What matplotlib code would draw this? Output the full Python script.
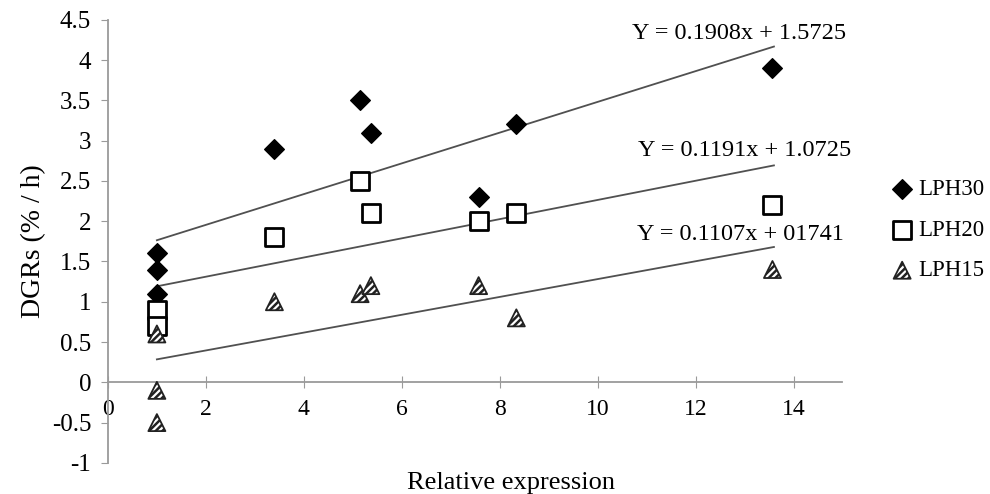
import matplotlib.pyplot as plt
import numpy as np

plt.rcParams['font.family'] = ['Liberation Serif', 'DejaVu Serif']
plt.rcParams['hatch.linewidth'] = 1.8

# data
x30 = [1.0, 1.0, 1.0, 3.4, 5.15, 5.37, 7.57, 8.34, 13.57]
y30 = [1.6, 1.4, 1.1, 2.9, 3.5, 3.1, 2.3, 3.2, 3.9]
x20 = [1.0, 1.0, 3.4, 5.15, 5.37, 7.57, 8.34, 13.57]
y20 = [0.9, 0.7, 1.8, 2.5, 2.1, 2.0, 2.1, 2.2]
x15 = [1.0, 1.0, 1.0, 3.4, 5.15, 5.37, 7.57, 8.34, 13.57]
y15 = [0.6, -0.1, -0.5, 1.0, 1.1, 1.2, 1.2, 0.8, 1.4]

# trend lines: slope, intercept, label
fits = [
    (0.1908, 1.5725, "Y = 0.1908x + 1.5725"),
    (0.1191, 1.0725, "Y = 0.1191x + 1.0725"),
    (0.1107, 0.1741, "Y = 0.1107x + 01741"),
]
fit_x = [1.0, 13.6]

fig = plt.figure(figsize=(9.9, 4.94), dpi=100)
ax = fig.add_axes([0.109, 0.063, 0.742, 0.897])

for slope, icpt, _ in fits:
    xs = np.array(fit_x)
    ax.plot(xs, slope * xs + icpt, color="#505050", lw=1.3, zorder=1)

ax.scatter(x30, y30, marker="D", s=100, color="black", zorder=3, label="LPH30")
ax.scatter(x20, y20, marker="s", s=185, facecolor="white", edgecolor="black",
           linewidths=2, zorder=3, label="LPH20")
ax.scatter(x15, y15, marker="^", s=150, facecolor="white", edgecolor="#222222",
           hatch="/////", linewidths=1.3, zorder=3, label="LPH15")

# equation labels
ax.text(15.07, 4.33, fits[0][2], fontsize=17.5, ha="right", va="center")
ax.text(15.17, 2.88, fits[1][2], fontsize=17.5, ha="right", va="center")
ax.text(15.03, 1.83, fits[2][2], fontsize=17.5, ha="right", va="center")

ax.set_xlim(0, 15)
ax.set_ylim(-1, 4.5)
ax.set_xticks(range(0, 15, 2))
ax.set_yticks(np.arange(-1, 4.51, 0.5))
ax.set_yticklabels([f"{v:g}" for v in np.arange(-1, 4.51, 0.5)])

ax.spines["top"].set_visible(False)
ax.spines["right"].set_visible(False)
ax.spines["bottom"].set_position(("data", 0))
for s in ("left", "bottom"):
    ax.spines[s].set_color("#9a9a9a")
    ax.spines[s].set_linewidth(1.3)
ax.tick_params(axis="y", direction="out", length=5, color="#9a9a9a", labelsize=18, pad=7)
ax.tick_params(axis="x", direction="inout", length=8, color="#9a9a9a", labelsize=17, pad=8)

ax.set_ylabel("DGRs (% / h)", fontsize=20, labelpad=4)
fig.text(0.516, 0.0, "Relative expression", fontsize=19, ha="center", va="bottom")

fig.legend(loc="center left", bbox_to_anchor=(0.902, 0.534), frameon=False,
           fontsize=16.5, handletextpad=0.3, labelspacing=0.85, handlelength=0.8,
           borderpad=0, borderaxespad=0)

fig.savefig("out.png", dpi=100)
